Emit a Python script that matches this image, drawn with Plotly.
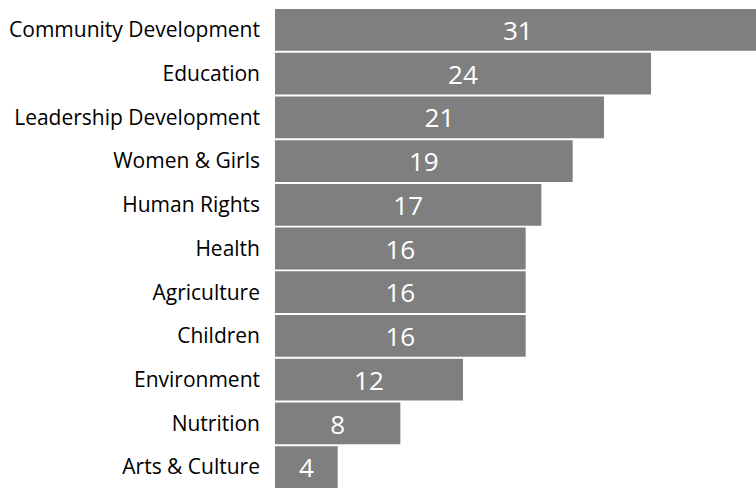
import plotly.graph_objects as go

categories = [
    "Community Development", "Education", "Leadership Development",
    "Women & Girls", "Human Rights", "Health", "Agriculture",
    "Children", "Environment", "Nutrition", "Arts & Culture",
]
counts = [31, 24, 21, 19, 17, 16, 16, 16, 12, 8, 4]

fig = go.Figure(
    go.Bar(
        y=categories,
        x=counts,
        orientation="h",
        marker=dict(color="#7f7f7f", line=dict(width=0)),
        text=[str(v) for v in counts],
        textposition="inside",
        insidetextanchor="middle",
        textangle=0,
        textfont=dict(family="Open Sans", size=27, color="white"),
        cliponaxis=True,
    )
)

fig.update_layout(
    width=756,
    height=489,
    margin=dict(l=275, r=0, t=8, b=0),
    plot_bgcolor="white",
    paper_bgcolor="white",
    bargap=0.045,
    showlegend=False,
    xaxis=dict(range=[0, 30.7], visible=False, fixedrange=True),
    yaxis=dict(
        autorange="reversed",
        showgrid=False,
        showline=False,
        ticks="",
        ticklabelstandoff=14,
        tickfont=dict(family="Open Sans", size=21, color="black"),
    ),
    uniformtext=dict(mode=False),
)

fig.write_html("out.html")
